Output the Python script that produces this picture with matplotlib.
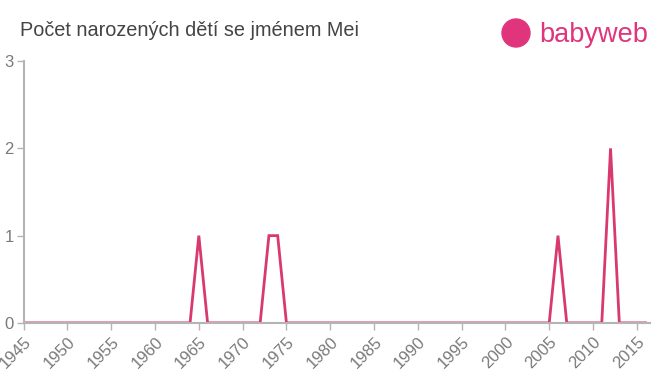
import matplotlib
matplotlib.use('Agg')
import matplotlib.pyplot as plt
from matplotlib.patches import Ellipse

years = list(range(1945, 2017))
births = [0] * len(years)
peaks = {1965: 1, 1973: 1, 1974: 1, 2006: 1, 2012: 2}
for y, v in peaks.items():
    births[years.index(y)] = v

xticks = list(range(1945, 2020, 5))
yticks = [0, 1, 2, 3]

line_color = '#d93a6e'
axis_color = '#b4b4b4'
text_color = '#7a7a7a'

plt.rcParams['font.family'] = ['Liberation Sans', 'DejaVu Sans']

fig = plt.figure(figsize=(6.6, 3.75), dpi=100)
ax = fig.add_axes([0.0358, 0.139, 0.949, 0.698])

ax.plot(years, births, color=line_color, linewidth=2, solid_joinstyle='miter')

ax.set_xlim(1945, 2016.5)
ax.set_ylim(0, 3)
ax.set_xticks(xticks)
ax.set_yticks(yticks)
ax.set_xticklabels([str(x) for x in xticks], rotation=45, ha='right',
                   rotation_mode='anchor')
ax.tick_params(axis='both', colors=axis_color, labelcolor=text_color,
               labelsize=12, length=5, width=1)
ax.tick_params(axis='x', pad=3)
ax.tick_params(axis='y', pad=2)

for side in ['top', 'right']:
    ax.spines[side].set_visible(False)
for side in ['left', 'bottom']:
    ax.spines[side].set_color(axis_color)
    ax.spines[side].set_linewidth(1.5)

fig.text(0.03, 0.918, 'Počet narozených dětí se jménem Mei', fontsize=14.3,
         color='#444444', ha='left', va='center')

# babyweb logo
logo_color = '#e0357c'
fig.patches.append(Ellipse((516 / 660, 1 - 33 / 375), 28 / 660, 28 / 375,
                           transform=fig.transFigure, color=logo_color, zorder=5))
fig.text(539 / 660, 1 - 35 / 375, 'babyweb', fontsize=19.5, color=logo_color,
         ha='left', va='center')

fig.savefig('out.png', dpi=100)
